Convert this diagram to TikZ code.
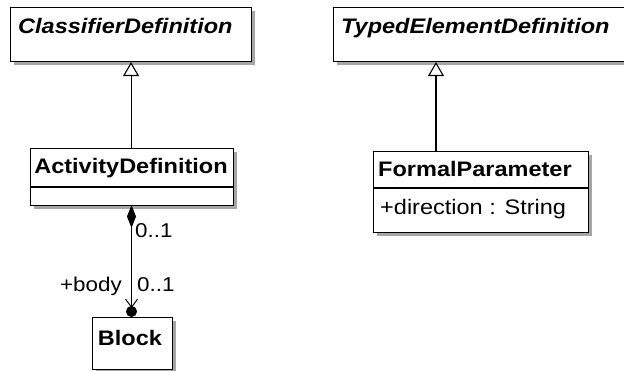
\documentclass[tikz,border=0pt]{standalone}
\usepackage{fontspec}
\setmainfont[FakeStretch=1.12]{Liberation Sans}
\usetikzlibrary{shadows,arrows.meta}
\begin{document}
\begin{tikzpicture}[x=1pt,y=-1pt,
  box/.style={draw, line width=1.1pt, fill=white, anchor=north west, inner sep=0pt,
    drop shadow={shadow xshift=3pt, shadow yshift=-3pt, fill=black!35, opacity=1}},
  txt/.style={font=\fontsize{21pt}{25pt}\selectfont, inner sep=0pt},
  lbl/.style={font=\fontsize{20pt}{24pt}\selectfont, inner sep=0pt},
  gen/.style={line width=1.1pt, -{Triangle[open, length=14pt, width=16pt, line width=1.1pt]}},
  comp/.style={line width=1.1pt,
    {Diamond[length=23pt, width=9pt]}-{Straight Barb[length=8pt, width=12pt, line width=1pt, sep=-2pt] Circle[length=11pt]}}]
\useasboundingbox (0,0) rectangle (624,371);

% boxes
\node[box, minimum width=241pt, minimum height=54pt] (cd) at (10,7) {};
\node[txt, anchor=base west, font=\fontsize{21pt}{25pt}\selectfont\bfseries\itshape] (cdt) at (18,34) {ClassifierDefinition};

\node[box, minimum width=300pt, minimum height=54pt] (ted) at (333,7) {};
\node[txt, anchor=base west, font=\fontsize{21pt}{25pt}\selectfont\bfseries\itshape] (tedt) at (341,34) {TypedElementDefinition};

\node[box, minimum width=203pt, minimum height=57pt] (ad) at (30,148) {};
\node[txt, anchor=base, font=\fontsize{21pt}{25pt}\selectfont\bfseries] (adt) at (131,174) {ActivityDefinition};
\coordinate (ads) at (30,187);
\draw[line width=1.1pt] (ads) -- (ads -| ad.east);

\node[box, minimum width=215pt, minimum height=81pt] (fp) at (373,151) {};
\node[txt, anchor=base west, font=\fontsize{21pt}{25pt}\selectfont\bfseries] (fpt) at (378,177) {FormalParameter};
\coordinate (fps) at (373,188);
\draw[line width=1.1pt] (fps) -- (fps -| fp.east);
\node[txt, anchor=base west] (fpa) at (380,215) {+direction : String};

\node[box, minimum width=80pt, minimum height=52pt] (bl) at (92,317) {};
\node[txt, anchor=base, font=\fontsize{21pt}{25pt}\selectfont\bfseries] (blt) at (130,345) {Block};

% generalizations
\draw[gen] (ad.north -| cd.south) -- (cd.south);
\coordinate (g2) at (436,151);
\draw[gen] (g2) -- (g2 |- ted.south);

% composition
\coordinate (cs) at (131.5,205);
\draw[comp] (cs) -- (cs |- bl.north);

% labels
\node[lbl, anchor=base west] (m1) at (135,238) {0..1};
\node[lbl, anchor=base east] (r2) at (122,292) {+body};
\node[lbl, anchor=base west] (m2) at (137,292) {0..1};
\end{tikzpicture}
\end{document}
